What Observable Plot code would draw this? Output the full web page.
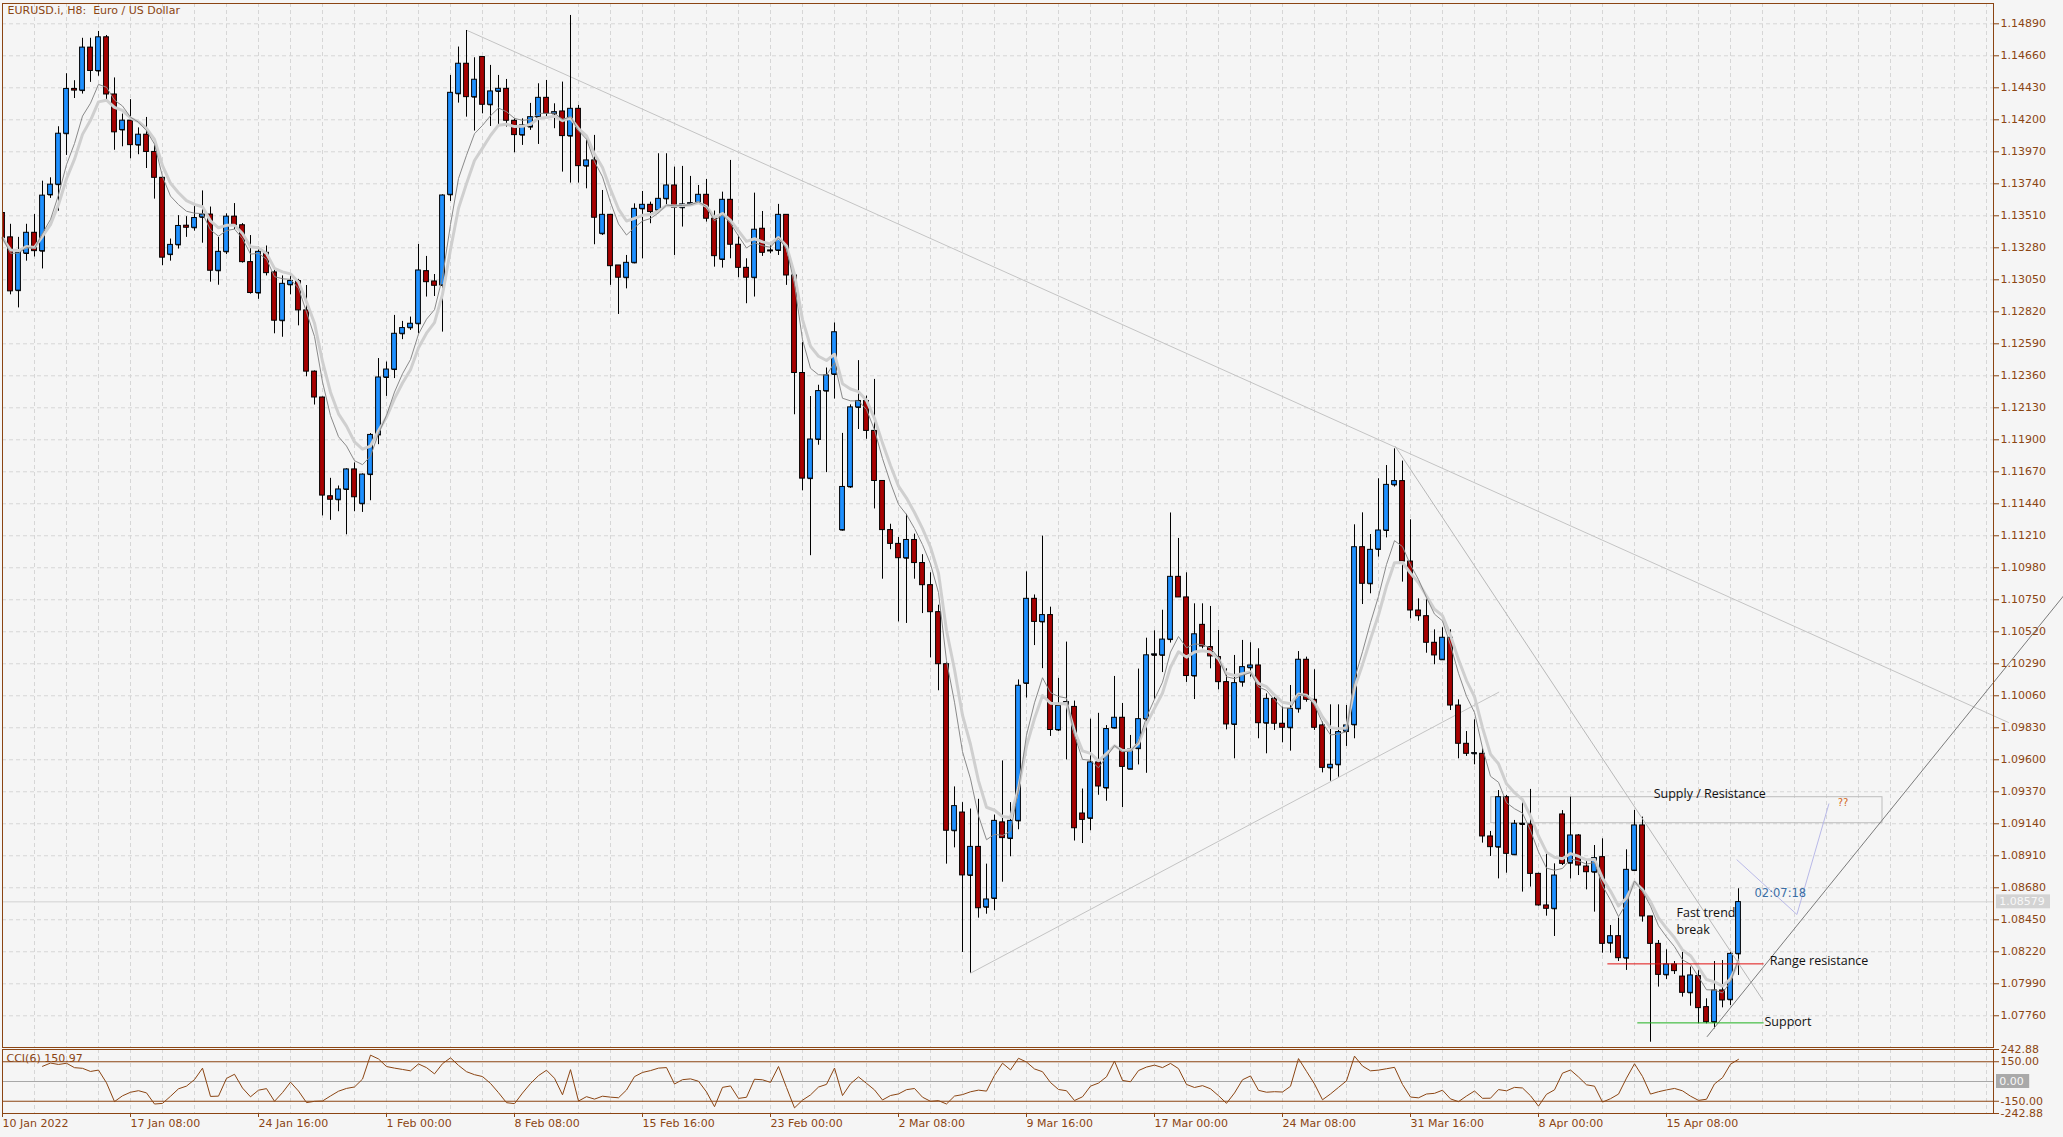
<!DOCTYPE html>
<html><head><meta charset="utf-8">
<script src="https://cdn.jsdelivr.net/npm/d3@7"></script>
<script src="https://cdn.jsdelivr.net/npm/@observablehq/plot@0.6"></script>
<style>
html,body{margin:0;padding:0;background:#f5f5f5;}
#chart{width:2063px;height:1137px;position:relative;overflow:hidden;}
#chart svg{display:block;}
</style></head><body><div id="chart"></div>
<script>
// ---- EURUSD.i H8 candles (index 0 = 10 Jan 2022 00:00) ----
const opens = [1.13530,1.13355,1.12972,1.13239,1.13388,1.13256,1.13660,1.13734,1.14100,1.14422,1.14410,1.14719,1.14551,1.14793,1.14382,1.14127,1.14194,1.14018,1.14093,1.13969,1.13783,1.13231,1.13301,1.13439,1.13424,1.13499,1.13519,1.13115,1.13251,1.13504,1.13442,1.13177,1.12955,1.13244,1.13103,1.12756,1.13014,1.13041,1.12830,1.12390,1.12204,1.11494,1.11469,1.11543,1.11687,1.11440,1.11650,1.11935,1.12348,1.12405,1.12662,1.12705,1.12734,1.13112,1.13038,1.13010,1.13661,1.14387,1.14603,1.14363,1.14651,1.14308,1.14404,1.14423,1.14193,1.14090,1.14148,1.14219,1.14358,1.14243,1.14260,1.14083,1.14279,1.13867,1.13908,1.13381,1.13517,1.13153,1.13065,1.13172,1.13560,1.13589,1.13549,1.13632,1.13728,1.13568,1.13592,1.13604,1.13661,1.13489,1.13196,1.13625,1.13302,1.13136,1.13065,1.13417,1.13261,1.13261,1.13517,1.13081,1.12380,1.11621,1.11902,1.12250,1.12370,1.11251,1.11561,1.12133,1.12179,1.11964,1.11604,1.11251,1.11152,1.11049,1.11180,1.11014,1.10855,1.10661,1.10287,1.09090,1.09221,1.08769,1.08974,1.08540,1.08603,1.09150,1.09034,1.09161,1.10149,1.10757,1.10591,1.10640,1.09814,1.09997,1.09980,1.09214,1.09179,1.09581,1.09397,1.09828,1.09902,1.09532,1.09680,1.09892,1.10351,1.10351,1.10464,1.10915,1.10767,1.10202,1.10570,1.10410,1.10338,1.10158,1.09854,1.10158,1.10261,1.10278,1.09863,1.10038,1.09859,1.09830,1.09966,1.10319,1.10031,1.09847,1.09542,1.09564,1.09803,1.09851,1.11128,1.10865,1.11112,1.11248,1.11576,1.11603,1.11025,1.10673,1.10632,1.10441,1.10319,1.10477,1.09990,1.09715,1.09643,1.09643,1.09049,1.08972,1.09331,1.08917,1.09135,1.09135,1.08780,1.08553,1.08529,1.09207,1.08857,1.09056,1.08833,1.08792,1.08900,1.08282,1.08332,1.08174,1.08804,1.09128,1.08474,1.08277,1.08054,1.08129,1.08042,1.07925,1.08045,1.07822,1.07714,1.07942,1.07875,1.08205];
const highs = [1.13561,1.13449,1.13355,1.13449,1.13519,1.13759,1.13783,1.14150,1.14531,1.14481,1.14786,1.14786,1.14835,1.14806,1.14501,1.14241,1.14345,1.14142,1.14217,1.14014,1.13791,1.13343,1.13511,1.13504,1.13585,1.13689,1.13573,1.13355,1.13524,1.13598,1.13454,1.13368,1.13286,1.13293,1.13140,1.13078,1.13085,1.13053,1.13009,1.12395,1.12207,1.11623,1.11568,1.11692,1.11734,1.11655,1.11945,1.12484,1.12459,1.12794,1.12751,1.12782,1.13304,1.13218,1.13088,1.13661,1.14519,1.14723,1.14842,1.14646,1.14655,1.14591,1.14519,1.14490,1.14207,1.14207,1.14318,1.14459,1.14483,1.14315,1.14471,1.14950,1.14303,1.14052,1.14088,1.13692,1.13517,1.13153,1.13225,1.13596,1.13685,1.13608,1.13956,1.13956,1.13860,1.13865,1.13793,1.13728,1.13771,1.13544,1.13680,1.13908,1.13362,1.13201,1.13673,1.13541,1.13297,1.13592,1.13517,1.13110,1.12599,1.12211,1.12292,1.12416,1.12740,1.11946,1.12151,1.12469,1.12214,1.12334,1.11604,1.11293,1.11198,1.11364,1.11222,1.11074,1.10944,1.10711,1.10298,1.09405,1.09292,1.09246,1.09316,1.08850,1.09203,1.09592,1.09292,1.10174,1.10951,1.10785,1.11208,1.10697,1.10185,1.10446,1.10022,1.09390,1.09892,1.09934,1.09846,1.10199,1.10005,1.09775,1.10252,1.10474,1.10527,1.10675,1.11374,1.11191,1.10944,1.10721,1.10721,1.10702,1.10529,1.10254,1.10350,1.10458,1.10441,1.10398,1.10074,1.10050,1.09978,1.10134,1.10378,1.10338,1.10247,1.09871,1.09995,1.09995,1.09990,1.11289,1.11375,1.11219,1.11620,1.11715,1.11835,1.11747,1.11325,1.10757,1.10750,1.10534,1.10549,1.10534,1.10031,1.09803,1.09887,1.09679,1.09085,1.09379,1.09343,1.09164,1.09291,1.09387,1.08785,1.08924,1.08852,1.09235,1.09331,1.09063,1.08876,1.08984,1.09032,1.08409,1.08462,1.08953,1.09236,1.09188,1.08474,1.08301,1.08234,1.08150,1.08217,1.08110,1.08110,1.07882,1.08150,1.08157,1.08217,1.08673];
const lows = [1.13325,1.12942,1.12848,1.13184,1.13214,1.13128,1.13635,1.13543,1.13944,1.14353,1.14385,1.14469,1.14513,1.14340,1.13981,1.14006,1.13920,1.13949,1.13850,1.13630,1.13152,1.13184,1.13271,1.13355,1.13400,1.13313,1.13033,1.13011,1.13231,1.13412,1.13170,1.12947,1.12910,1.13078,1.12662,1.12637,1.12942,1.12719,1.12353,1.12150,1.11353,1.11321,1.11383,1.11217,1.11383,1.11378,1.11462,1.11865,1.12212,1.12340,1.12620,1.12686,1.12662,1.12926,1.12930,1.12674,1.13613,1.14320,1.14219,1.14119,1.14243,1.14152,1.14148,1.14148,1.13963,1.14016,1.14124,1.14023,1.14207,1.14136,1.13824,1.13745,1.13745,1.13704,1.13302,1.13369,1.13010,1.12801,1.12985,1.13165,1.13201,1.13453,1.13529,1.13584,1.13225,1.13429,1.13584,1.13596,1.13465,1.13141,1.13134,1.13201,1.13065,1.12878,1.12926,1.13218,1.13237,1.13225,1.13010,1.12080,1.11533,1.11067,1.11861,1.11664,1.12193,1.11244,1.11551,1.11974,1.11904,1.11403,1.10898,1.11110,1.10591,1.10580,1.10898,1.10651,1.10333,1.10096,1.08850,1.08967,1.08215,1.08067,1.08462,1.08490,1.08515,1.08720,1.08903,1.09097,1.10044,1.10421,1.10255,1.09768,1.09803,1.09599,1.09016,1.08998,1.09090,1.09345,1.09302,1.09821,1.09256,1.09532,1.09563,1.09503,1.10033,1.10227,1.10439,1.10767,1.10156,1.10033,1.10398,1.10254,1.10103,1.09815,1.09607,1.10122,1.10194,1.09751,1.09643,1.09811,1.09722,1.09662,1.09935,1.10014,1.09811,1.09506,1.09446,1.09475,1.09696,1.09751,1.10716,1.10793,1.11057,1.11195,1.11560,1.10877,1.10613,1.10596,1.10366,1.10283,1.10314,1.09954,1.09607,1.09624,1.09564,1.09001,1.08905,1.08744,1.08785,1.08912,1.08649,1.08685,1.08548,1.08476,1.08330,1.08840,1.08744,1.08768,1.08665,1.08505,1.08210,1.08210,1.08150,1.08086,1.08800,1.08433,1.07570,1.07966,1.08021,1.08057,1.07894,1.07829,1.07702,1.07702,1.07666,1.07817,1.07834,1.08050];
const closes = [1.13350,1.12967,1.13244,1.13388,1.13256,1.13655,1.13734,1.14100,1.14422,1.14410,1.14719,1.14551,1.14793,1.14382,1.14110,1.14194,1.14018,1.14093,1.13969,1.13783,1.13209,1.13301,1.13437,1.13424,1.13494,1.13519,1.13115,1.13251,1.13504,1.13442,1.13177,1.12955,1.13251,1.13098,1.12756,1.13021,1.13041,1.12830,1.12390,1.12204,1.11499,1.11469,1.11543,1.11687,1.11487,1.11650,1.11935,1.12348,1.12405,1.12662,1.12703,1.12734,1.13117,1.13033,1.13007,1.13656,1.14394,1.14603,1.14363,1.14488,1.14308,1.14404,1.14423,1.14193,1.14090,1.14160,1.14219,1.14358,1.14243,1.14255,1.14083,1.14279,1.13867,1.13908,1.13496,1.13517,1.13148,1.13065,1.13172,1.13560,1.13589,1.13537,1.13632,1.13728,1.13568,1.13592,1.13601,1.13661,1.13489,1.13220,1.13625,1.13302,1.13136,1.13065,1.13410,1.13244,1.13254,1.13517,1.13081,1.12380,1.11621,1.11902,1.12250,1.12363,1.12673,1.11561,1.12133,1.12179,1.11964,1.11604,1.11251,1.11152,1.11049,1.11180,1.11014,1.10855,1.10661,1.10287,1.09090,1.09267,1.08769,1.08974,1.08533,1.08596,1.09161,1.09037,1.09161,1.10132,1.10757,1.10591,1.10640,1.09814,1.09987,1.10015,1.09108,1.09168,1.09581,1.09408,1.09821,1.09902,1.09549,1.09673,1.09892,1.10351,1.10358,1.10464,1.10915,1.10767,1.10202,1.10502,1.10414,1.10343,1.10158,1.09854,1.10151,1.10266,1.10278,1.09863,1.10038,1.09859,1.09830,1.09966,1.10319,1.10031,1.09830,1.09542,1.09564,1.09799,1.09847,1.11128,1.10865,1.11109,1.11248,1.11576,1.11603,1.11025,1.10673,1.10632,1.10441,1.10350,1.10477,1.09990,1.09715,1.09643,1.09648,1.09049,1.08972,1.09331,1.08924,1.09140,1.09140,1.08780,1.08553,1.08529,1.08768,1.08852,1.09056,1.08840,1.08792,1.08893,1.08277,1.08332,1.08174,1.08809,1.09128,1.08474,1.08277,1.08054,1.08129,1.08081,1.07925,1.08050,1.07815,1.07714,1.07942,1.07870,1.08205,1.08577];

// ---- axes ----
const xTickIdx = [0,16,32,48,64,80,96,112,128,144,160,176,192,208];
const xTickLabels = ["10 Jan 2022","17 Jan 08:00","24 Jan 16:00","1 Feb 00:00","8 Feb 08:00","15 Feb 16:00","23 Feb 00:00","2 Mar 08:00","9 Mar 16:00","17 Mar 00:00","24 Mar 08:00","31 Mar 16:00","8 Apr 00:00","15 Apr 08:00"];
const yTickLabels = ["1.07760","1.07990","1.08220","1.08450","1.08680","1.08910","1.09140","1.09370","1.09600","1.09830","1.10060","1.10290","1.10520","1.10750","1.10980","1.11210","1.11440","1.11670","1.11900","1.12130","1.12360","1.12590","1.12820","1.13050","1.13280","1.13510","1.13740","1.13970","1.14200","1.14430","1.14660","1.14890"];
const cciTickLabels = ["242.88","150.00","-150.00","-242.88"];
const bidPrice = 1.08579;
const titleText = "EURUSD.i, H8:\u00A0 Euro / US Dollar";
const cciTitle = "CCI(6) 150.97";

// ---- drawn objects (bar index, price) ----
const downTrend = [[58.1,1.14842],[250.75,1.09868]];
const steepTrend = [[174.1,1.11852],[220.08,1.07870]];
const riseTrend = [[121.0,1.08066],[187.04,1.10086]];
const supportTrend = [[213.09,1.07611],[257.6,1.10776]];
const projection = [[216.8,1.08881],[224.3,1.08488],[228.3,1.09283]];
const supplyZone = [{x1:186.1, x2:235.0, y1:1.09144, y2:1.09331}];
const rangeResistance = [[200.66,1.08133],[220.09,1.08133]];
const supportLevel = [[204.4,1.07709],[220.09,1.07709]];
const notes = [
  {text:"Supply / Resistance", x:206.4, y:1.09357},
  {text:"Fast trend", x:209.25, y:1.08497},
  {text:"break", x:209.25, y:1.08375},
  {text:"Range resistance", x:220.9, y:1.08157},
  {text:"Support", x:220.25, y:1.07713}
];
const timerNote = [{text:"02:07:18", x:219.0, y:1.08639}];
const qNote = [{text:"??", x:229.4, y:1.09293}];

// ---- indicators (from the candles) ----
function ema(n){ const a = 2/(n+1); let e = closes[0]; return closes.map(c => (e = e + a*(c-e))); }
function cci(n){
  const tp = closes.map((c,i)=>(highs[i]+lows[i]+c)/3);
  return tp.map((v,i)=>{
    if (i < n-1) return null;
    const w = tp.slice(i-n+1, i+1); const m = d3.mean(w); const md = d3.mean(w, x=>Math.abs(x-m));
    return md ? (v-m)/(0.015*md) : 0;
  });
}
const emaFast = ema(6), emaSlow = ema(8), cciVals = cci(6);

const BROWN = "#8B4513";
const W = 2063, ML = 2, MR = 70;
const xDomain = [0, 248.875];
const bars = closes.map((c,i)=>({i, o:opens[i], h:highs[i], l:lows[i], c, up: c >= opens[i]}));
const xGrid = d3.range(0, 249, 4);
const yTicks = yTickLabels.map(Number);
const style = {background:"#f5f5f5", color:BROWN, fontFamily:"DejaVu Sans", fontSize:"11px", overflow:"visible"};

const main = Plot.plot({
  width: W, height: 1048, marginLeft: ML, marginRight: MR, marginTop: 3, marginBottom: 1,
  x: {domain: xDomain, axis: null},
  y: {domain: [1.07532, 1.15036], axis: null},
  style,
  marks: [
    Plot.ruleY(yTicks, {stroke:"#d6d6d6", strokeDasharray:"4,3"}),
    Plot.ruleX(xGrid, {stroke:"#d6d6d6", strokeDasharray:"4,3"}),
    Plot.ruleY([bidPrice], {stroke:"#d2d2d2"}),
    Plot.rect(supplyZone, {x1:"x1", x2:"x2", y1:"y1", y2:"y2", fill:"none", stroke:"#bdbdbd"}),
    Plot.line(downTrend, {stroke:"#c4c4c4", strokeWidth:1, clip:false}),
    Plot.line(riseTrend, {stroke:"#c4c4c4", strokeWidth:1}),
    Plot.ruleX(bars, {x:"i", y1:"l", y2:"h", stroke:"#000", strokeWidth:1, clip:true}),
    Plot.link(bars, {x1:d=>d.i-0.3, x2:d=>d.i+0.3, y1:"o", y2:"o", stroke:"#000", clip:true}),
    Plot.rect(bars, {x1:d=>d.i-0.3, x2:d=>d.i+0.3, y1:"o", y2:"c", fill:d=>d.up?"#1e90ff":"#a80000", stroke:"#000", strokeWidth:1, clip:true}),
    Plot.line(emaSlow.map((v,i)=>[i,v]), {stroke:"#cfcfcf", strokeWidth:3}),
    Plot.line(emaFast.map((v,i)=>[i,v]), {stroke:"#8a8a8a", strokeWidth:1}),
    Plot.line(steepTrend, {stroke:"#b8b8b8", strokeWidth:1}),
    Plot.line(supportTrend, {stroke:"#7a7a7a", strokeWidth:1, clip:false}),
    Plot.line(projection, {stroke:"#b9b9e8", strokeWidth:1}),
    Plot.line(rangeResistance, {stroke:"#e01010", strokeWidth:1}),
    Plot.line(supportLevel, {stroke:"#1fb01f", strokeWidth:1}),
    Plot.text(notes, {x:"x", y:"y", text:"text", textAnchor:"start", fill:"#111", fontFamily:"Open Sans", fontSize:12.5}),
    Plot.text(timerNote, {x:"x", y:"y", text:"text", textAnchor:"start", fill:"#3a6ea5", fontSize:11.5}),
    Plot.text(qNote, {x:"x", y:"y", text:"text", textAnchor:"start", fill:"#d2691e", fontSize:10}),
    Plot.frame({stroke:BROWN}),
    Plot.axisY(yTicks, {anchor:"right", tickFormat:d=>d.toFixed(5), tickSize:5, tickPadding:2, label:null, fontSize:11}),
    Plot.rect([bidPrice], {x1:249.25, x2:256.0, y1:d=>d-0.00050, y2:d=>d+0.00050, fill:"#d3d3d3", clip:false}),
    Plot.text([bidPrice], {x:249.6, y:d=>d, text:d=>d.toFixed(5), textAnchor:"start", fill:"#f8f8f8", clip:false}),
    Plot.text([titleText], {frameAnchor:"top-left", dx:5, dy:3, fill:BROWN})
  ]
});

const cciPlot = Plot.plot({
  width: W, height: 89, marginLeft: ML, marginRight: MR, marginTop: 1, marginBottom: 24,
  x: {domain: xDomain, axis: null},
  y: {domain: [-242.88, 242.88], axis: null},
  style,
  marks: [
    Plot.ruleX(xGrid, {stroke:"#d6d6d6", strokeDasharray:"4,3"}),
    Plot.ruleY([0], {stroke:"#a8a8a8"}),
    Plot.ruleY([150, -150], {stroke:BROWN, strokeWidth:1.2}),
    Plot.line(cciVals.map((v,i)=>[i,v]).filter(d=>d[1]!==null), {stroke:BROWN, strokeWidth:1, clip:true}),
    Plot.frame({stroke:BROWN}),
    Plot.axisY(cciTickLabels.map(Number), {anchor:"right", tickFormat:d=>d.toFixed(2), tickSize:5, tickPadding:2, label:null, fontSize:11}),
    Plot.rect([0], {x1:249.25, x2:253.4, y1:d=>d-53, y2:d=>d+53, fill:"#a9a9a9", clip:false}),
    Plot.text([0], {x:249.6, y:d=>d, text:d=>d.toFixed(2), textAnchor:"start", fill:"#f8f8f8", clip:false}),
    Plot.text([cciTitle], {frameAnchor:"top-left", dx:4, dy:5, fill:BROWN}),
    Plot.axisX(xTickIdx, {anchor:"bottom", tickFormat:d=>xTickLabels[xTickIdx.indexOf(d)], textAnchor:"start", tickSize:4, tickPadding:2, label:null, fontSize:11})
  ]
});

const host = document.getElementById("chart");
host.appendChild(main);
host.appendChild(cciPlot);
</script>
</body></html>
